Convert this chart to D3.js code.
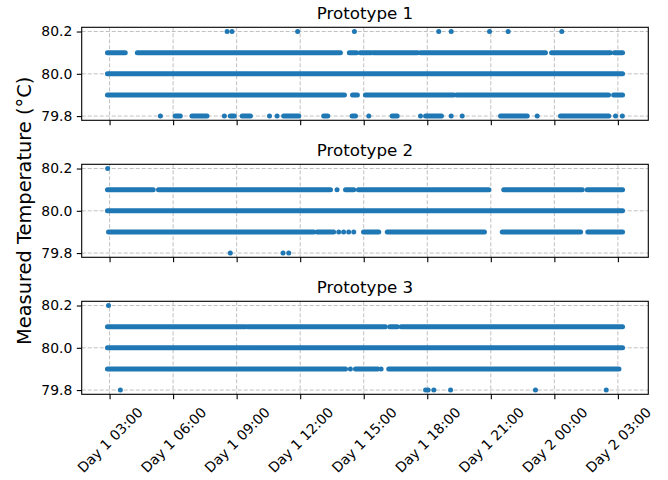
<!DOCTYPE html>
<html>
<head>
<meta charset="UTF-8">
<title>Measured Temperature</title>
<style>
    body { margin: 0; padding: 0; background: #fff; }
    svg { display: block; font-family: "DejaVu Sans", sans-serif; }
    .grid line { stroke: #b0b0b0; stroke-width: 0.8; stroke-dasharray: 4,2; }
    .frame { fill: none; stroke: #000; stroke-width: 1.1; }
</style>
</head>
<body>
<svg></svg>
<script src="https://d3js.org/d3.v7.min.js"></script>
<script>

// dimensions
let w = 668, h = 480;
let left = 81.7, right = 648.3, panelH = 93;
let panelTops = [27.3, 164.3, 301.3];

// time in hours counted from Day 1 00:00
let tStart = 2.9, tEnd = 27.22;
let tickHours = [3, 6, 9, 12, 15, 18, 21, 24, 27];
let yTicks = [79.8, 80.0, 80.2];
let titles = ["Prototype 1", "Prototype 2", "Prototype 3"];

// readings: a number is a single reading, a pair is a dense run of readings
let proto1_802 = [8.55, 8.78, 11.88, 14.56, 18.54, 19.13, 20.94, 21.82, 24.35];
let proto1_801 = [[2.9, 3.74], [4.31, 13.9], [14.32, 14.66], [14.84, 15.36], [15.46, 17.54], [17.68, 23.58], [23.87, 26.65], [26.84, 27.22]];
let proto1_800 = [[2.9, 27.22]];
let proto1_799 = [[2.9, 14.09], [14.47, 14.7], [15.08, 19.24], [19.38, 26.56], [26.8, 27.22]];
let proto1_798 = [5.4, [6.1, 6.34], [6.89, 7.6], 8.42, [8.7, 8.89], [9.26, 9.65], 10.55, 10.91, [11.22, 11.93],
    [13.11, 13.3], [14.45, 14.61], 15.24, [16.34, 16.58], 17.68, [17.92, 18.67], 19.13, 19.65, [21.46, 22.72],
    23.19, [24.29, 26.57], 26.89, 27.21];

let proto2_802 = [2.91];
let proto2_801 = [[2.9, 5.06], [5.31, 13.43], 13.74, [14.14, 14.53], [14.75, 20.91], [21.61, 25.32], [25.55, 27.22]];
let proto2_800 = [[2.9, 27.22]];
let proto2_799 = [[2.95, 12.64], [12.8, 13.58], 13.82, 14.05, 14.29, 14.53, [14.99, 15.71], [16.11, 20.7], [21.54, 25.24], [25.58, 27.22]];
let proto2_798 = [8.7, 11.19, 11.46];

let proto3_802 = [2.95];
let proto3_801 = [[2.9, 9.41], [9.52, 16.02], [16.23, 16.58], [16.77, 27.22]];
let proto3_800 = [[2.9, 27.22]];
let proto3_799 = [[2.9, 14.14], 14.37, [14.61, 15.66], 15.82, [16.18, 27.05]];
let proto3_798 = [3.51, 17.92, 18.04, 18.31, 19.1, 23.11, 26.45];

let panels = [
    [[80.2, proto1_802], [80.1, proto1_801], [80.0, proto1_800], [79.9, proto1_799], [79.8, proto1_798]],
    [[80.2, proto2_802], [80.1, proto2_801], [80.0, proto2_800], [79.9, proto2_799], [79.8, proto2_798]],
    [[80.2, proto3_802], [80.1, proto3_801], [80.0, proto3_800], [79.9, proto3_799], [79.8, proto3_798]]
];

let base = new Date(2024, 0, 1, 0, 0);
let toDate = hr => new Date(base.getTime() + hr * 3600e3);

// x scale with matplotlib-like 5% margins
let pad = (tEnd - tStart) * 0.05;
let x = d3.scaleTime()
    .domain([toDate(tStart - pad), toDate(tEnd + pad)])
    .range([left, right]);

let blue = "#1f77b4";

let svg = d3.select("svg")
    .attr("width", w)
    .attr("height", h)
    .attr("viewBox", `0 0 ${w} ${h}`);

function fmtTick(d) {
    let hr = Math.round((d - base) / 3600e3);
    let day = Math.floor(hr / 24) + 1;
    return `Day ${day} ${String(hr % 24).padStart(2, "0")}:00`;
}

panels.forEach((levels, i) => {
    let top = panelTops[i];
    let y = d3.scaleLinear()
        .domain([79.78, 80.22])
        .range([top + panelH, top]);

    let g = svg.append("g");

    // grid
    let grid = g.append("g").attr("class", "grid");
    grid.selectAll(".vx")
        .data(tickHours)
        .enter()
        .append("line")
        .attr("x1", d => x(toDate(d))).attr("x2", d => x(toDate(d)))
        .attr("y1", top).attr("y2", top + panelH);
    grid.selectAll(".hy")
        .data(yTicks)
        .enter()
        .append("line")
        .attr("x1", left).attr("x2", right)
        .attr("y1", d => y(d)).attr("y2", d => y(d));

    // readings
    let marks = g.append("g");
    levels.forEach(([lvl, runs]) => {
        runs.forEach(r => {
            let [a, b] = Array.isArray(r) ? r : [r, r];
            if (b > a) {
                marks.append("line")
                    .attr("x1", x(toDate(a))).attr("x2", x(toDate(b)))
                    .attr("y1", y(lvl)).attr("y2", y(lvl))
                    .attr("stroke", blue)
                    .attr("stroke-width", 5)
                    .attr("stroke-linecap", "round");
            } else {
                marks.append("circle")
                    .attr("cx", x(toDate(a)))
                    .attr("cy", y(lvl))
                    .attr("r", 2.5)
                    .attr("fill", blue);
            }
        });
    });

    // frame
    g.append("rect")
        .attr("class", "frame")
        .attr("x", left).attr("y", top)
        .attr("width", right - left).attr("height", panelH);

    // y axis
    let yAxis = g.append("g")
        .attr("transform", `translate(${left},0)`)
        .call(d3.axisLeft(y).tickValues(yTicks).tickFormat(d3.format(".1f")).tickSize(4.9).tickPadding(4.5));
    yAxis.select(".domain").remove();
    yAxis.selectAll("line").attr("stroke", "#000").attr("stroke-width", 1.1);
    yAxis.selectAll("text").attr("font-size", "13.9px").attr("fill", "#000")
        .attr("font-family", "DejaVu Sans");

    // x axis
    let xAxis = g.append("g")
        .attr("transform", `translate(0,${top + panelH})`)
        .call(d3.axisBottom(x).tickValues(tickHours.map(toDate)).tickSize(4.9).tickFormat(""));
    xAxis.select(".domain").remove();
    xAxis.selectAll("line").attr("stroke", "#000").attr("stroke-width", 1.1);

    // rotated tick labels on the bottom panel only
    if (i === panels.length - 1) {
        xAxis.selectAll(".tick").each(function(d) {
            let t = d3.select(this).append("text")
                .attr("font-size", "13.9px")
                .attr("font-family", "DejaVu Sans")
                .attr("fill", "#000")
                .attr("text-anchor", "middle")
                .attr("dominant-baseline", "central")
                .text(fmtTick(d));
            let len = t.node().getComputedTextLength();
            let side = (len + 16) * Math.SQRT1_2;
            t.attr("transform", `translate(0,${9.8 + side / 2}) rotate(-45)`);
        });
    }

    // title
    svg.append("text")
        .attr("x", (left + right) / 2)
        .attr("y", top - 8.3)
        .attr("text-anchor", "middle")
        .attr("font-size", "16.7px")
        .attr("fill", "#000")
        .text(titles[i]);
});

// shared y label
svg.append("text")
    .attr("transform", `translate(31,${panelTops[1] + panelH / 2}) rotate(-90)`)
    .attr("text-anchor", "middle")
    .attr("font-size", "19.4px")
    .attr("fill", "#000")
    .text("Measured Temperature (°C)");

</script>
</body>
</html>
